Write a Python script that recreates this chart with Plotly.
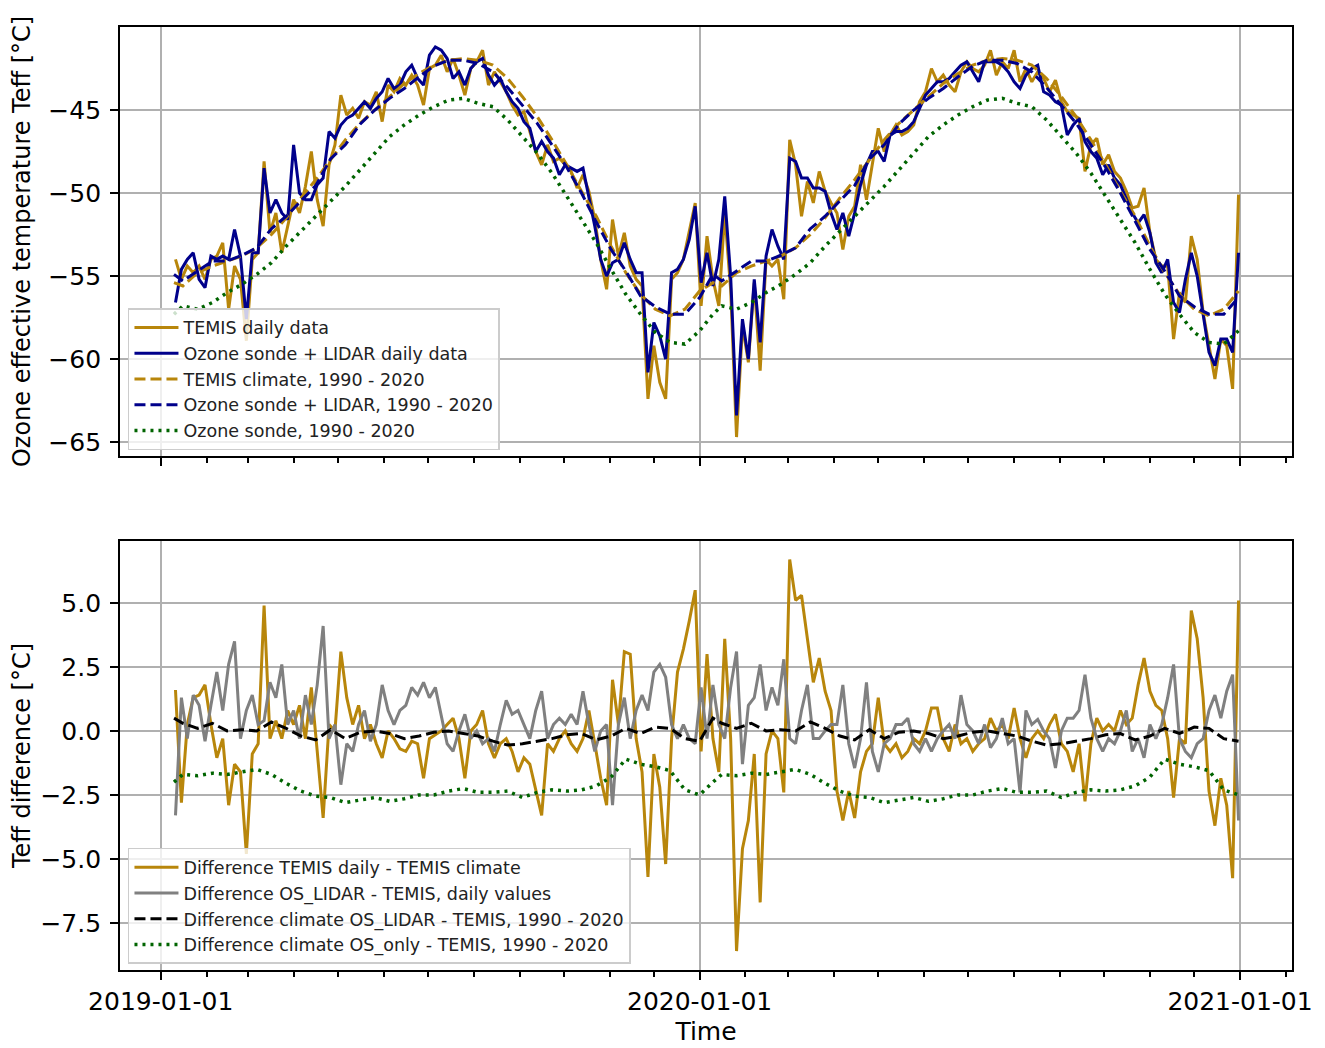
import pandas as pd
import plotly.graph_objects as go
from plotly.subplots import make_subplots

# ── Palette / fonts ───────────────────────────────────────────────────────────
_ORANGE = "#B8860B"
_NAVY   = "#00008B"
_GREEN  = "#006400"
_GREY   = "#808080"
_BLACK  = "#000000"
_GRID   = "#b0b0b0"
_FONT   = "DejaVu Sans"

# ── Data ──────────────────────────────────────────────────────────────────────
# daily series: every 4th day, 2019-01-11 .. 2020-12-31
DAILY_START = "2019-01-11"

temis_daily = [
    -54.0, -55.2, -54.4, -54.8, -54.4, -55.2, -54.0, -53.8, -53.0, -57.0,
    -54.4, -55.2, -58.9, -54.0, -53.6, -48.1, -52.4, -51.2, -53.6, -52.0,
    -50.4, -51.2, -49.6, -47.5, -50.4, -52.0, -48.3, -47.1, -44.1, -45.3,
    -44.9, -45.5, -44.5, -44.7, -43.9, -45.7, -43.5, -43.9, -43.1, -43.5,
    -42.9, -43.5, -44.7, -42.5, -42.3, -41.7, -42.7, -41.9, -42.9, -44.1,
    -42.5, -42.1, -41.4, -43.5, -42.7, -43.3, -43.9, -44.7, -45.3, -45.1,
    -46.3, -47.5, -48.3, -47.1, -48.1, -47.9, -48.3, -48.7, -49.7, -48.9,
    -49.9, -51.6, -54.0, -55.8, -51.6, -53.8, -52.4, -54.4, -55.2, -55.6,
    -62.4, -59.2, -61.4, -62.4, -55.2, -54.8, -54.0, -52.4, -50.6, -56.8,
    -52.6, -55.2, -56.8, -51.2, -55.8, -64.7, -58.0, -60.2, -55.4, -60.7,
    -54.0, -54.4, -54.0, -56.4, -46.8, -48.3, -51.4, -49.3, -50.6, -48.7,
    -49.9, -50.6, -51.2, -53.4, -51.4, -50.8, -48.3, -50.4, -48.3, -46.1,
    -47.5, -46.5, -45.9, -46.5, -46.3, -45.9, -44.5, -43.9, -42.5, -43.3,
    -42.9, -43.5, -43.9, -42.7, -42.1, -42.5, -42.7, -42.3, -41.4, -42.9,
    -42.1, -42.5, -41.4, -43.3, -42.5, -43.3, -42.7, -43.1, -43.9, -43.2,
    -44.5, -45.1, -45.3, -45.5, -48.7, -47.1, -46.7, -48.3, -47.7, -48.7,
    -49.1, -49.9, -50.9, -50.8, -49.7, -52.4, -54.0, -54.4, -54.4, -58.8,
    -56.0, -56.6, -52.6, -54.0, -57.2, -59.2, -61.2, -58.8, -59.2, -61.8,
    -50.1,
]

sonde_lidar_daily = [
    -56.6, -54.6, -54.0, -53.6, -55.2, -55.7, -53.8, -54.0, -53.8, -54.0,
    -52.2, -53.8, -57.6, -53.6, -53.6, -48.5, -51.2, -50.4, -51.2, -51.6,
    -47.1, -50.0, -50.4, -50.4, -49.5, -49.1, -46.3, -46.7, -45.9, -45.5,
    -45.3, -44.9, -44.5, -44.9, -44.3, -43.9, -43.1, -43.7, -43.5, -42.7,
    -42.3, -43.1, -43.5, -41.7, -41.2, -41.4, -41.9, -43.1, -42.7, -43.5,
    -42.5, -42.1, -41.9, -42.9, -43.5, -43.1, -43.9, -44.5, -44.9, -45.7,
    -46.1, -47.5, -46.9, -47.5, -47.9, -48.9, -48.3, -48.5, -48.7, -48.5,
    -50.2, -52.0, -54.0, -55.0, -54.2, -54.0, -53.0, -54.0, -54.8, -54.8,
    -60.8, -57.8, -58.6, -60.0, -54.8, -54.6, -54.0, -52.8, -50.8, -55.4,
    -53.6, -55.6, -54.0, -50.2, -55.0, -63.4, -57.6, -60.0, -55.2, -59.0,
    -53.8, -52.2, -53.2, -54.0, -47.9, -48.1, -49.1, -49.1, -49.7, -49.7,
    -49.9, -51.2, -52.2, -51.2, -52.6, -51.2, -49.5, -48.3, -47.5, -47.5,
    -48.1, -46.5, -46.3, -46.3, -46.1, -45.7, -44.9, -44.1, -43.7, -43.3,
    -43.3, -43.1, -42.7, -42.3, -42.1, -42.7, -43.3, -42.1, -42.1, -42.1,
    -42.3, -42.7, -43.3, -43.7, -42.9, -42.5, -42.3, -43.9, -44.1, -44.5,
    -44.7, -46.5, -45.9, -45.5, -46.9, -47.5, -47.9, -48.9, -48.3, -49.1,
    -49.5, -50.4, -51.2, -51.8, -51.3, -52.4, -54.2, -54.8, -54.0, -56.6,
    -57.2, -55.2, -53.6, -55.0, -57.4, -59.6, -60.4, -58.8, -58.8, -59.6,
    -53.6,
]

diff_temis_daily_clim = [
    1.6, -2.8, 0.25, 1.3, 1.4, 1.8, 0.25, -1.05, -0.3, -2.9,
    -1.3, -1.6, -4.8, -0.9, -0.5, 4.9, -0.3, 0.4, -0.3, 0.8,
    0.25, 1.0, -0.3, 1.7, -0.8, -3.4, 0.25, 0.0, 3.1, 1.3,
    0.25, 1.0, -0.3, 0.25, -0.5, -1.05, 0.0, -0.3, -0.7, -0.8,
    -0.4, -0.5, -1.85, -0.3, -0.15, 0.0, 0.25, 0.5, -0.3, -1.85,
    0.0, 0.25, 0.8, -0.5, -1.05, -0.5, -0.3, -0.8, -1.6, -1.05,
    -1.3, -2.35, -3.3, -0.5, -0.8, -0.3, 0.0, -0.5, -0.8, -0.3,
    0.8, -0.5, -1.85, -2.9, 2.0, 0.25, 3.1, 3.0, -0.3, -1.6,
    -5.7, -0.9, -2.2, -5.2, -0.3, 2.3, 3.2, 4.3, 5.5, -0.8,
    3.0, -0.3, -1.6, 3.6, -0.3, -8.6, -4.6, -3.5, -0.9, -6.7,
    -0.9, 0.0, -0.3, -2.4, 6.7, 5.1, 5.3, 3.6, 1.9, 2.85,
    1.55, 0.8, -2.35, -3.5, -2.35, -3.4, -1.6, -0.8, -0.5, 1.3,
    -0.5, -0.8, -0.5, -1.05, -0.8, -0.3, -0.5, 0.0, 0.9, 0.9,
    -0.3, -0.8, 0.25, -0.5, -0.3, -0.8, -0.5, -0.3, 0.5, 0.0,
    0.25, -0.3, 0.9, -0.3, -1.05, -0.3, 0.0, -0.3, 0.25, 0.65,
    -0.5, -0.8, -1.6, -0.5, -2.75, -0.5, 0.5, 0.0, 0.25, 0.0,
    0.8, 0.25, 0.5, 1.8, 2.85, 1.55, 1.0, 0.8, -0.3, -2.6,
    -0.3, -0.5, 4.7, 3.6, 1.3, -2.35, -3.7, -1.85, -2.9, -5.75,
    5.1,
]

diff_os_lidar_temis = [
    -3.3, 1.3, -0.3, 1.4, 1.0, -0.4, 1.0, 2.3, 0.8, 2.6,
    3.5, -0.3, 0.8, 1.4, 0.25, 0.4, 1.9, 1.3, 2.6, 0.25,
    0.8, -0.3, 1.4, 0.25, 1.8, 4.1, -0.3, 0.25, -2.1, -0.5,
    -0.8, 0.25, 0.8, -0.4, 0.25, 1.8, 0.8, 0.25, 0.8, 1.0,
    1.7, 1.4, 1.9, 1.3, 1.7, 0.65, -0.5, -0.8, 0.0, 0.65,
    -0.3, 0.0, -0.5, -0.3, -0.8, 0.25, 1.2, 0.65, 0.8, 0.25,
    -0.3, 0.8, 1.55, -0.3, 0.25, 0.5, 0.25, 0.65, 0.25, 1.55,
    0.25, -0.8, 0.0, 0.25, -2.9, 0.25, 1.3, -0.3, 0.8, 1.4,
    0.8, 2.3, 2.6, 2.1, 0.25, -0.3, 0.25, -0.3, -0.5, 1.7,
    -0.3, 1.8, 0.25, -0.3, 1.7, 3.1, -1.3, 1.0, 1.3, 2.6,
    0.8, 1.7, 1.0, 2.8, -0.3, -0.5, 0.8, 1.8, -0.3, -0.3,
    0.0, 0.25, 0.25, 1.8, -0.5, -1.45, -0.3, 1.9, -0.8, -1.6,
    -0.5, -0.3, 0.25, 0.25, 0.5, -0.5, -0.8, -0.3, -0.8, -0.3,
    0.0, 0.25, -0.3, 1.4, 0.25, 0.0, -0.5, 0.25, -0.65, -0.3,
    0.5, -0.5, -0.3, -2.4, 0.8, 0.25, 0.45, 0.0, -0.3, -1.45,
    0.0, 0.5, 0.5, 0.8, 2.2, 0.5, -0.3, -0.8, -0.3, -0.5,
    0.0, 0.8, -0.8, -0.3, -1.05, 0.25, -0.3, 0.25, 1.3, 2.6,
    -0.3, -0.8, -1.05, -0.5, -0.3, 0.8, 1.4, 0.5, 1.55, 2.2,
    -3.5,
]

# 1990-2020 climatologies, by day of year (same curve each year)
CLIM_DOY = [9, 15, 25, 35, 45, 55, 65, 75, 85, 95, 105, 115, 125, 135, 145,
            155, 165, 175, 185, 195, 205, 215, 225, 235, 245, 255, 265, 275,
            285, 295, 305, 315, 325, 335, 345, 355, 365]

temis_clim = [
    -55.4, -55.6, -54.8, -54.4, -54.1, -53.8, -53.3, -52.5, -51.5, -50.3,
    -49.2, -48.0, -46.8, -45.8, -45.0, -44.2, -43.4, -42.8, -42.3, -42.0,
    -41.9, -42.0, -42.3, -43.1, -44.2, -45.4, -46.8, -48.3, -49.9, -51.4,
    -53.2, -54.8, -56.1, -57.0, -57.4, -57.0, -55.9,
]

sonde_lidar_clim = [
    -54.9, -55.3, -54.7, -54.1, -54.1, -53.75, -53.3, -52.15, -51.4, -50.5,
    -49.55, -47.95, -47.1, -45.85, -45.0, -44.3, -43.7, -43.0, -42.35, -42.0,
    -42.0, -42.2, -42.7, -43.65, -44.7, -45.8, -47.1, -48.45, -50.0, -51.75,
    -53.4, -54.7, -56.2, -56.85, -57.3, -57.3, -56.3,
]

sonde_clim = [
    -57.3, -56.8, -57.0, -56.6, -56.0, -55.5, -54.9, -54.2, -53.2, -52.3,
    -51.4, -50.5, -49.6, -48.6, -47.6, -46.6, -45.9, -45.3, -44.8, -44.4,
    -44.3, -44.6, -44.8, -45.6, -46.6, -47.6, -48.8, -50.2, -51.6, -53.0,
    -54.6, -56.1, -57.3, -58.4, -59.0, -59.1, -58.3,
]

diff_clim_os_lidar = [
    0.5, 0.3, 0.1, 0.3, 0.0, 0.05, 0.0, 0.35, 0.1, -0.2,
    -0.35, 0.05, -0.3, -0.05, 0.0, -0.1, -0.3, -0.2, -0.05, 0.0,
    -0.1, -0.2, -0.4, -0.55, -0.5, -0.4, -0.3, -0.15, -0.1, -0.35,
    -0.2, 0.1, -0.1, 0.15, 0.1, -0.3, -0.4,
]

diff_clim_os_only = [
    -2.0, -1.7, -1.75, -1.65, -1.7, -1.6, -1.5, -1.7, -2.05, -2.35,
    -2.55, -2.6, -2.8, -2.7, -2.6, -2.75, -2.65, -2.5, -2.5, -2.35,
    -2.25, -2.4, -2.4, -2.35, -2.6, -2.4, -2.3, -2.35, -2.3, -2.15,
    -1.8, -1.1, -1.3, -1.4, -1.55, -2.3, -2.5,
]

YEARS = [2019, 2020]
X_TICKS = ["2019-01-01", "2020-01-01", "2021-01-01"]
Y1_TICKS = [-65, -60, -55, -50, -45]
Y2_TICKS = [-7.5, -5.0, -2.5, 0.0, 2.5, 5.0]

# ── Time axes ─────────────────────────────────────────────────────────────────
daily_t = pd.date_range(DAILY_START, periods=len(temis_daily), freq="4D")
clim_t = []
for yr in YEARS:
    clim_t += list(pd.Timestamp(f"{yr}-01-01") + pd.to_timedelta(CLIM_DOY, unit="D"))


def _two_years(vals):
    return list(vals) * len(YEARS)


def _line(x, y, name, color, legend, dash="solid", width=3.0):
    return go.Scatter(
        x=x, y=y, name=name, mode="lines",
        line=dict(color=color, width=width, dash=dash),
        legend=legend,
    )


DASH = "11px,5px"
DOT = "3px,5px"

fig = make_subplots(rows=2, cols=1, shared_xaxes=True)

# upper panel
fig.add_trace(_line(daily_t, temis_daily, "TEMIS daily data", _ORANGE, "legend"), 1, 1)
fig.add_trace(_line(daily_t, sonde_lidar_daily, "Ozone sonde + LIDAR daily data", _NAVY, "legend"), 1, 1)
fig.add_trace(_line(clim_t, _two_years(temis_clim), "TEMIS climate, 1990 - 2020",
                    _ORANGE, "legend", DASH), 1, 1)
fig.add_trace(_line(clim_t, _two_years(sonde_lidar_clim), "Ozone sonde + LIDAR, 1990 - 2020",
                    _NAVY, "legend", DASH), 1, 1)
fig.add_trace(_line(clim_t, _two_years(sonde_clim), "Ozone sonde, 1990 - 2020",
                    _GREEN, "legend", DOT, 3.5), 1, 1)

# lower panel
fig.add_trace(_line(daily_t, diff_temis_daily_clim, "Difference TEMIS daily - TEMIS climate",
                    _ORANGE, "legend2"), 2, 1)
fig.add_trace(_line(daily_t, diff_os_lidar_temis, "Difference OS_LIDAR - TEMIS, daily values",
                    _GREY, "legend2"), 2, 1)
fig.add_trace(_line(clim_t, _two_years(diff_clim_os_lidar),
                    "Difference climate OS_LIDAR - TEMIS, 1990 - 2020",
                    _BLACK, "legend2", DASH), 2, 1)
fig.add_trace(_line(clim_t, _two_years(diff_clim_os_only),
                    "Difference climate OS_only - TEMIS, 1990 - 2020",
                    _GREEN, "legend2", DOT, 3.5), 2, 1)

# ── Layout ────────────────────────────────────────────────────────────────────
# the page body adds an 8px offset, so the figure is 8px smaller than the window
_axis = dict(
    showline=True, linecolor="black", linewidth=1.8, mirror=True,
    ticks="outside", ticklen=8, tickwidth=1.8, tickcolor="black",
    showgrid=True, gridcolor=_GRID, gridwidth=1.6, zeroline=False,
    automargin=False,
    tickfont=dict(family=_FONT, size=25, color="black"),
)
_xaxis = dict(
    _axis, type="date",
    range=["2018-12-04 10:00", "2021-02-05 05:00"],
    tickvals=X_TICKS, tickformat="%Y-%m-%d",
    minor=dict(dtick="M1", tick0="2019-01-01", ticks="outside", ticklen=5,
               tickwidth=1.5, tickcolor="black", showgrid=False),
)
_legend = dict(
    xanchor="left", yanchor="bottom", x=0.0068, itemwidth=44,
    bgcolor="rgba(255,255,255,0.8)", bordercolor="#cccccc", borderwidth=1.5,
    font=dict(family=_FONT, size=17.5, color="#222222"),
)
_title_font = dict(family=_FONT, size=24, color="black")

fig.update_layout(
    width=1317, height=1040,
    paper_bgcolor="white", plot_bgcolor="white",
    margin=dict(l=112, r=33, t=19, b=78),
    font=dict(family=_FONT, color="black"),
    xaxis=dict(_xaxis, domain=[0, 1], showticklabels=False),
    xaxis2=dict(_xaxis, domain=[0, 1],
                title=dict(text="Time", font=dict(_title_font, size=25), standoff=8)),
    yaxis=dict(_axis, domain=[0.5451, 1.0], range=[-65.84, -40.0], tickvals=Y1_TICKS,
               ticklabelstandoff=4,
               title=dict(text="Ozone effective temperature Teff [°C]",
                          font=_title_font, standoff=14)),
    yaxis2=dict(_axis, domain=[0.0, 0.4549], range=[-9.34, 7.42],
                tickvals=Y2_TICKS, tickformat=".1f", ticklabelstandoff=4,
                title=dict(text="Teff difference [°C]",
                           font=_title_font, standoff=14)),
    legend=dict(_legend, y=0.5514),
    legend2=dict(_legend, y=0.0064),
)

fig.write_html("out.html")
